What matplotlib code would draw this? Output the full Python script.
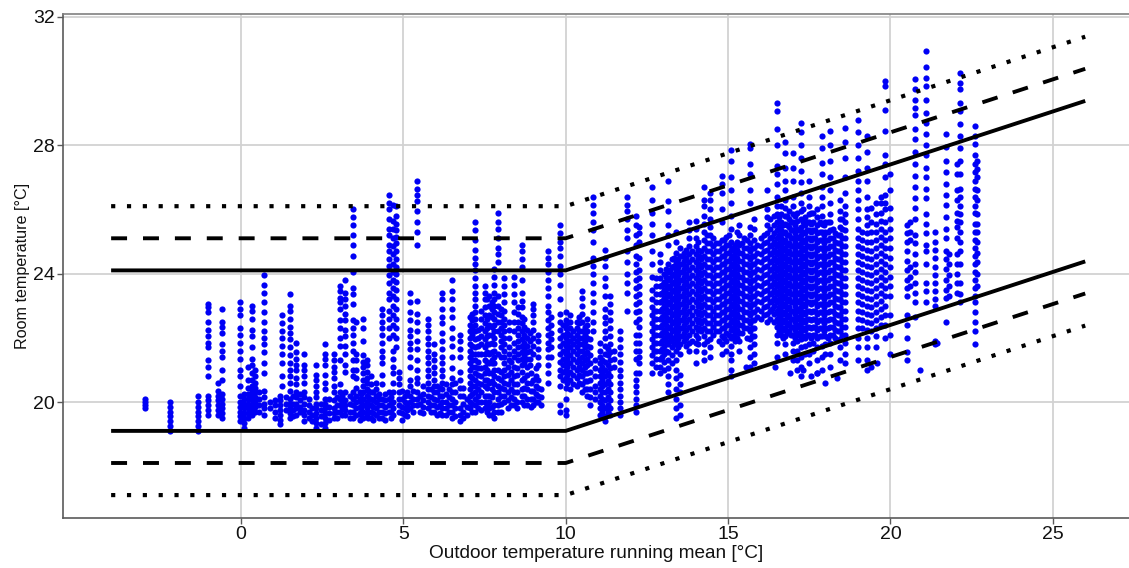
import matplotlib
matplotlib.use("Agg")
import matplotlib.pyplot as plt

# Comfort band breakpoints
band_x = [-4, 10, 26]
upper_solid = [24.1, 24.1, 29.38]
lower_solid = [19.1, 19.1, 24.38]
upper_dash = [25.1, 25.1, 30.38]
lower_dash = [18.1, 18.1, 23.38]
upper_dot = [26.1, 26.1, 31.38]
lower_dot = [17.1, 17.1, 22.38]

x_ticks = [0, 5, 10, 15, 20, 25]
y_ticks = [20, 24, 28, 32]
x_label = "Outdoor temperature running mean [°C]"
y_label = "Room temperature [°C]"

# Vertical strips of readings: low winter section
x_low = [-2.97, -2.2, -1.32, -1.02, -0.72, -0.58, -0.03, 0.1, 0.22, 0.35, 0.42, 0.71, 1.2, 1.27, 1.5, 1.7, 1.95, 2.3,
         2.6, 2.85, 3.05, 3.2, 3.45, 3.55, 3.77, 3.87, 4.0, 4.17, 4.35, 4.55, 4.68, 4.78, 4.87, 5.2, 5.42, 5.75, 5.95, 6.2, 6.5, 6.75]
y_low = [
 [19.8, 19.9, 20.0, 20.1],
 [19.1, 19.25, 19.4, 19.55, 19.7, 19.85, 20.0],
 [19.1, 19.25, 19.4, 19.55, 19.7, 19.85, 20.0, 20.2],
 [19.6, 19.75, 19.9, 20.05, 20.2, 20.8, 21.1, 21.3, 21.7, 21.85, 22.05, 22.25, 22.5, 22.8, 22.95, 23.05],
 [19.6, 19.75, 19.9, 20.05, 20.2, 20.35, 20.6],
 [19.5, 19.65, 19.8, 19.95, 20.1, 20.25, 20.7, 21.0, 21.4, 21.6, 21.8, 22.15, 22.35, 22.5, 22.9],
 [19.4, 19.55, 19.7, 19.85, 20.0, 20.2, 20.5, 20.8, 21.0, 21.35, 21.6, 21.85, 22.1, 22.3, 22.7, 22.9, 23.1],
 [19.2, 19.35, 19.5, 19.65, 19.8, 19.95, 20.1, 20.25],
 [19.5, 19.65, 19.8, 19.95, 20.1, 20.25, 20.45, 20.7, 21.1],
 [19.6, 19.75, 19.9, 20.05, 20.2, 20.35, 20.5, 20.7, 20.9, 21.15, 21.35, 21.7, 22.05, 22.25, 22.6, 22.85, 23.0],
 [19.7, 19.85, 20.0, 20.15, 20.3, 20.45, 20.6, 20.8, 21.0],
 [19.6, 19.8, 19.95, 20.15, 20.35, 20.9, 21.2, 21.55, 21.8, 22.0, 22.2, 22.5, 22.8, 23.1, 23.4, 23.65, 23.95],
 [19.3, 19.45, 19.6, 19.75, 19.9, 20.05, 20.2],
 [20.5, 20.8, 21.2, 21.5, 21.75, 22.0, 22.2, 22.45, 22.7],
 [19.5, 19.65, 19.8, 19.95, 20.1, 20.35, 20.6, 20.8, 21.0, 21.2, 21.45, 21.7, 21.95, 22.15, 22.35, 22.6, 22.85, 23.0, 23.35],
 [19.6, 19.8, 19.95, 20.15, 20.3, 20.55, 20.75, 21.0, 21.15, 21.35, 21.55, 21.85],
 [19.4, 19.6, 19.75, 19.95, 20.15, 20.3, 20.6, 20.8, 21.0, 21.15, 21.5],
 [19.2, 19.35, 19.5, 19.65, 19.8, 19.95, 20.15, 20.3, 20.5, 20.7, 20.85, 21.15],
 [19.2, 19.35, 19.5, 19.65, 19.8, 19.95, 20.1, 20.4, 20.6, 20.85, 21.15, 21.35, 21.5, 21.8],
 [19.5, 19.65, 19.8, 20.05, 20.3, 20.5, 20.75, 20.95, 21.1, 21.3, 21.5],
 [19.7, 19.9, 20.1, 20.3, 20.55, 21.3, 21.75, 22.0, 22.3, 22.55, 22.9, 23.1, 23.25, 23.45, 23.6],
 [19.6, 19.75, 19.9, 20.05, 20.3, 20.95, 21.15, 21.5, 21.75, 22.05, 22.25, 22.55, 22.75, 23.0, 23.2, 23.4, 23.8],
 [19.5, 19.7, 19.9, 20.1, 20.3, 20.8, 21.0, 21.3, 21.6, 21.85, 22.1, 22.3, 22.55, 23.05, 23.35, 23.55, 24.05, 24.55, 24.9, 25.2, 25.5, 25.75, 26.0],
 [19.6, 19.8, 20.0, 20.2, 20.45, 20.75, 21.0, 21.3, 21.5, 22.5],
 [19.5, 19.7, 19.9, 20.1, 20.3, 20.5, 20.7, 20.9, 21.1, 21.25, 21.45, 21.9, 22.3, 22.6],
 [19.6, 19.8, 20.0, 20.2, 20.4, 20.6, 20.75, 20.95, 21.15, 21.3],
 [19.5, 19.7, 19.9, 20.1, 20.3, 20.55, 20.8],
 [19.6, 19.8, 20.0, 20.2, 20.4, 20.6],
 [19.5, 19.7, 19.9, 20.1, 20.55, 20.85, 21.2, 21.4, 21.6, 21.85, 22.1, 22.3, 22.5, 22.7, 22.9],
 [19.7, 19.9, 20.1, 20.3, 22.0, 22.3, 22.6, 22.85, 23.2, 23.4, 23.7, 23.95, 24.25, 24.45, 24.7, 24.9, 25.2, 25.4, 25.7, 26.0, 26.2, 26.45],
 [19.6, 19.8, 20.0, 20.3, 20.6, 20.9, 21.1, 21.35, 21.6, 22.1, 22.4, 22.7, 23.0, 23.3, 23.55, 23.8, 24.05, 24.3, 24.6, 24.85, 25.1, 25.4, 25.65, 26.15],
 [21.7, 22.0, 22.3, 22.6, 22.9, 23.2, 23.5, 23.75, 24.0, 24.2, 24.45, 24.7, 24.95, 25.15, 25.35, 25.55, 25.8, 26.1],
 [19.7, 19.9, 20.1, 20.3, 20.55, 20.75, 20.95],
 [19.8, 20.0, 20.2, 20.5, 20.7, 21.1, 21.4, 21.65, 21.85, 22.05, 22.25, 22.55, 22.8, 23.1, 23.4],
 [19.9, 20.1, 20.3, 20.6, 20.75, 21.0, 21.3, 21.65, 21.9, 22.2, 22.5, 22.75, 23.15, 24.9, 25.3, 25.6, 25.95, 26.25, 26.45, 26.65, 26.9],
 [19.8, 20.0, 20.2, 20.4, 20.6, 20.8, 21.0, 21.2, 21.4, 21.6, 21.8, 22.0, 22.2, 22.4, 22.6],
 [19.7, 19.9, 20.1, 20.3, 20.5, 20.7, 20.9, 21.1, 21.3, 21.5, 21.8],
 [19.6, 19.8, 20.0, 20.2, 20.4, 20.6, 20.8, 21.0, 21.2, 21.4, 21.65, 21.9, 22.15, 22.45, 22.65, 22.9, 23.2, 23.4],
 [19.5, 19.7, 19.9, 20.1, 20.3, 20.55, 20.75, 21.05, 21.4, 21.75, 22.0, 22.3, 22.65, 22.9, 23.2, 23.45, 23.8],
 [19.4, 19.6, 19.8, 20.2, 20.45, 20.7, 20.95, 21.4, 21.65, 21.9, 22.1],
]

# Extra readings in the crowded band just above 19.5 °C
x_band = [0.55, 0.9, 1.05, 1.4, 1.6, 1.82, 2.08, 2.18, 2.45, 2.72, 2.95, 3.12, 3.35, 3.65, 3.7, 3.92, 4.08, 4.25, 4.42, 4.62, 4.95, 5.05, 5.12,
          5.3, 5.5, 5.62, 5.85, 6.05, 6.12, 6.3, 6.4, 6.6, 6.85, 6.95, 7.12, 7.4, 7.58, 7.72, 8.0, 8.22, 8.32, 8.5, 8.72, 8.92, 9.08, 9.25]
y_band = [
 [19.7, 19.9, 20.1, 20.3], [19.8, 20.0], [19.5, 19.7, 19.9, 20.05], [19.75, 19.95, 20.15], [19.55, 19.75, 19.95, 20.2], [19.7, 19.85, 20.05, 20.25],
 [19.5, 19.7, 19.9, 20.1], [19.4, 19.6, 19.8], [19.3, 19.55, 19.75, 19.95], [19.45, 19.65, 19.85, 20.1], [19.5, 19.7, 19.9, 20.15], [19.6, 19.8, 20.0, 20.2],
 [19.5, 19.7, 19.95, 20.2], [19.45, 19.65, 19.85, 20.1, 20.3], [19.6, 19.8, 20.0, 20.25], [19.5, 19.7, 19.95, 20.15, 20.35], [19.45, 19.65, 19.85, 20.05, 20.3], [19.5, 19.7, 19.9, 20.1, 20.25],
 [19.45, 19.65, 19.85, 20.05, 20.25], [19.5, 19.7, 19.95, 20.15], [19.45, 19.65, 19.85, 20.1, 20.35], [19.6, 19.8, 20.0, 20.2], [19.55, 19.75, 19.95, 20.3],
 [19.7, 19.9, 20.1, 20.35], [19.7, 19.95, 20.2], [19.65, 19.85, 20.05, 20.25, 20.5], [19.7, 19.9, 20.15, 20.4], [19.6, 19.85, 20.05, 20.3, 20.5], [19.65, 19.9, 20.2, 20.45], [19.6, 19.8, 20.0, 20.25, 20.55], [19.7, 19.9, 20.15, 20.4], [19.55, 19.8, 20.0, 20.3, 20.6], [19.5, 19.7, 19.95, 20.2, 20.45], [19.6, 19.85, 20.1],
 [19.7, 19.95, 20.25, 20.5, 20.75], [19.75, 20.0, 20.3, 20.55, 20.8, 21.05], [19.7, 19.9, 20.2, 20.45, 20.7], [19.6, 19.85, 20.15, 20.4, 20.65, 20.9, 21.2], [19.7, 19.95, 20.2, 20.45, 20.7, 20.95], [19.8, 20.05, 20.3, 20.55, 20.85, 21.1], [19.9, 20.15, 20.4, 20.7, 20.95, 21.25], [19.8, 20.0, 20.3, 20.55, 20.85, 21.05], [19.9, 20.2, 20.45, 20.75], [19.85, 20.1, 20.35, 20.6, 20.9], [20.0, 20.25, 20.5, 20.8, 21.05], [19.9, 20.15, 20.4],
]

# Shoulder section around the 10 °C breakpoint
x_mid = [7.05, 7.2, 7.3, 7.5, 7.65, 7.8, 7.92, 8.1, 8.4, 8.65, 8.8, 9.0, 9.15, 9.45, 9.55, 9.83, 10.0, 10.12,
         10.35, 10.5, 10.65, 10.75, 10.83, 11.05, 11.2, 11.37, 11.67, 11.9, 12.17, 12.27]
y_mid = [
 [19.8, 20.0, 20.2, 20.4, 20.6, 20.8, 21.0, 21.2, 21.4, 21.6, 21.8, 22.0, 22.2, 22.4, 22.65],
 [19.7, 19.9, 20.1, 20.3, 20.5, 20.7, 20.9, 21.1, 21.3, 21.5, 21.7, 21.95, 22.2, 22.4, 22.6, 22.8, 23.0, 23.2, 23.4, 23.6, 23.85, 24.1, 24.3, 24.5, 24.75, 25.05, 25.35, 25.6],
 [19.8, 20.0, 20.2, 20.4, 20.6, 20.85, 21.05, 21.25, 21.5, 21.75, 22.0, 22.25],
 [19.8, 20.0, 20.2, 20.5, 20.7, 20.9, 21.1, 21.3, 21.5, 21.7, 21.95, 22.2, 22.45, 22.7, 22.95, 23.2, 23.4, 23.6],
 [19.6, 19.8, 20.0, 20.2, 20.6, 20.9, 21.2, 21.5, 21.8, 22.1, 22.4, 22.7, 23.0, 23.3],
 [19.5, 19.7, 19.9, 20.3, 20.55, 20.8, 21.0, 21.2, 21.4, 21.6, 21.8, 22.0, 22.2, 22.4, 22.6, 22.8, 23.0, 23.2, 23.4, 23.65, 23.9, 24.15],
 [19.7, 19.9, 20.1, 20.3, 20.5, 20.75, 21.0, 21.5, 22.2, 22.5, 22.75, 23.0, 23.3, 24.35, 24.6, 24.8, 25.1, 25.4, 25.6, 25.9],
 [20.0, 20.2, 20.4, 20.6, 20.8, 21.0, 21.2, 21.4, 21.6, 21.8, 22.0, 22.2, 22.4, 22.6, 22.85, 23.1, 23.35, 23.6, 23.85],
 [19.9, 20.1, 20.3, 20.55, 20.8, 21.1, 21.4, 21.6, 21.85, 22.2, 22.5, 22.8, 23.1, 23.35, 23.65, 23.9],
 [20.0, 20.2, 20.4, 20.7, 20.95, 21.15, 21.35, 21.55, 21.75, 21.95, 22.2, 22.45, 22.65, 22.95, 23.15, 23.4, 23.8, 24.2, 24.45, 24.7, 24.9],
 [19.9, 20.1, 20.4, 20.6, 20.85, 21.1, 21.35, 21.55, 21.75, 22.0, 22.25],
 [19.9, 20.1, 20.35, 20.7, 21.5, 21.75, 22.0, 22.25, 22.5, 22.7, 22.9, 23.05],
 [20.0, 20.2, 20.45, 20.7, 21.15, 21.4, 21.65, 21.9, 22.1],
 [20.6, 20.9, 21.15, 21.4, 21.65, 21.85, 22.1, 22.3, 22.55, 22.8, 23.0, 23.3, 23.55, 23.8, 24.05, 24.3, 24.5, 24.7],
 [21.4, 21.7, 21.95, 22.15, 22.4, 22.65],
 [19.7, 19.9, 20.5, 20.8, 21.0, 21.25, 21.5, 21.75, 22.0, 22.25, 22.5, 22.75, 23.2, 23.65, 24.0, 24.25, 24.55, 24.8, 25.0, 25.25, 25.5],
 [19.6, 19.75, 20.1, 20.45, 20.75, 21.0, 21.25, 21.5, 21.75, 22.0, 22.3, 22.55, 22.8],
 [20.4, 20.7, 20.95, 21.2, 21.45, 21.7, 21.9, 22.1, 22.3, 22.5, 22.7],
 [20.5, 20.75, 21.0, 21.25, 21.5, 21.7, 21.9, 22.1, 22.3, 22.5],
 [20.3, 20.55, 20.8, 21.0, 21.2, 21.4, 21.6, 21.8, 22.0, 22.2, 22.5, 22.75, 23.0, 23.25, 23.45],
 [20.2, 20.4, 20.65, 20.9, 21.15, 21.35, 21.55, 21.75, 22.0, 22.2, 22.4, 22.6],
 [19.9, 20.15, 20.4, 20.7, 20.95, 21.2, 21.45, 21.7, 21.95],
 [22.2, 22.5, 22.8, 23.1, 23.4, 23.7, 24.0, 24.25, 24.5, 25.0, 25.35, 25.6, 25.9, 26.15, 26.4],
 [19.6, 19.8, 20.0, 20.2, 20.4, 20.6, 20.8, 21.0, 21.2, 21.4, 21.6, 21.85],
 [19.4, 19.55, 19.8, 20.05, 20.3, 20.55, 20.8, 21.0, 21.25, 21.5, 21.75, 22.0, 22.2, 22.45, 22.65, 22.9, 23.3, 23.6, 23.85, 24.25, 24.5, 24.75],
 [19.6, 19.8, 20.05, 20.3, 20.55, 20.8, 21.05, 21.3, 21.55, 21.8, 22.05, 22.3, 22.55, 22.8, 23.05, 23.3],
 [19.6, 19.8, 20.0, 20.2, 20.4, 20.6, 20.8, 21.0, 21.25, 21.5, 21.7, 21.95, 22.2],
 [22.85, 23.4, 23.7, 24.0, 24.35, 24.7, 25.1, 25.35, 25.7, 25.95, 26.15, 26.4],
 [19.7, 19.9, 20.1, 20.3, 20.5, 20.7, 20.9, 21.35, 21.6, 21.85, 22.1, 22.5, 22.8, 23.05, 23.3, 23.55, 23.8, 24.05, 24.3, 24.55, 24.9, 25.2, 25.5, 25.8],
 [20.9, 21.2, 21.4, 21.6, 21.85, 22.1, 22.35, 22.6, 22.85, 23.1, 23.35, 23.6, 23.85, 24.1, 24.5, 25.0, 25.25, 25.45],
]

# More readings threaded between the shoulder strips
x_mid2 = [7.12, 7.38, 7.58, 7.72, 8.0, 8.25, 8.52, 8.72, 8.9, 9.93, 10.05, 10.22, 10.42, 10.58, 10.9, 11.12, 11.3, 11.5]
y_mid2 = [
 [21.1, 21.3, 21.5, 21.75, 22.1, 22.3, 22.55, 22.75],
 [21.5, 21.8, 22.05, 22.3, 22.6, 22.85],
 [21.0, 21.25, 21.55, 21.8, 22.05, 22.3, 22.6, 23.2],
 [21.3, 21.55, 21.85, 22.1, 22.35, 22.65, 22.9, 23.1],
 [21.4, 21.7, 21.9, 22.1, 22.3, 22.5, 22.7, 22.9],
 [21.3, 21.5, 21.7, 22.0, 22.25, 22.5],
 [21.3, 21.5, 21.7, 21.9, 22.1, 22.3, 22.5, 22.75, 22.95],
 [21.2, 21.45, 21.65, 21.85, 22.1, 22.35, 22.6],
 [21.15, 21.35, 21.6, 21.9, 22.15],
 [20.7, 20.95, 21.15, 21.35, 21.6, 21.85, 22.1, 22.4],
 [20.6, 20.85, 21.1, 21.35, 21.6, 21.85, 22.15, 22.45],
 [20.55, 20.85, 21.1, 21.35, 21.6, 21.8, 22.0, 22.2],
 [20.6, 20.85, 21.1, 21.35, 21.6, 21.8, 22.0, 22.2, 22.45, 22.65],
 [20.4, 20.65, 20.9, 21.1, 21.3, 21.5, 21.7, 21.9, 22.1, 22.35],
 [20.1, 20.3, 20.5, 20.8, 21.05, 21.3],
 [19.7, 19.9, 20.1, 20.3, 20.5, 20.7, 20.9, 21.1, 21.3],
 [19.7, 19.9, 20.15, 20.4, 20.65, 20.9, 21.15, 21.45, 21.65],
 [21.1, 21.35, 21.6],
]

# Dense summer cloud
x_high = [12.65, 12.78, 12.9, 13.03, 13.15, 13.28, 13.4, 13.52, 13.65, 13.8, 14.0, 14.12, 14.25, 14.45, 14.62, 14.8, 14.95, 15.1, 15.22, 15.35,
          15.5, 15.67, 15.8, 16.0, 16.2, 16.35, 16.5, 16.62, 16.75, 16.88, 17.0, 17.12, 17.25, 17.38, 17.5, 17.62, 17.75, 17.88, 18.0, 18.15, 18.3, 18.45, 18.6]
y_high = [
 [20.9, 21.2, 21.45, 21.7, 21.95, 22.2, 22.45, 22.7, 22.95, 23.2, 23.5, 23.9, 24.3, 24.7, 25.2, 25.55, 25.9, 26.3, 26.7],
 [21.1, 21.35, 21.6, 21.85, 22.1, 22.35, 22.6, 22.85, 23.1, 23.35, 23.6, 23.85],
 [20.9, 21.1, 21.35, 21.6, 21.85, 22.1, 22.35, 22.6, 22.85, 23.1, 23.35, 23.6, 23.85, 24.1, 24.35, 24.6],
 [21.0, 21.25, 21.5, 21.75, 22.0, 22.25, 22.5, 22.75, 23.0, 23.25, 23.5, 23.75, 24.0],
 [20.3, 20.55, 20.8, 21.05, 21.3, 21.55, 21.8, 22.05, 22.3, 22.55, 22.8, 23.05, 23.3, 23.55, 23.8, 24.05, 24.3, 24.9, 25.2, 25.5, 25.95, 26.25, 26.9],
 [21.2, 21.45, 21.7, 21.95, 22.2, 22.45, 22.7, 22.95, 23.2, 23.45, 23.7, 23.95, 24.2, 24.45],
 [19.5, 19.8, 20.1, 20.4, 20.75, 21.0, 21.3, 21.6, 21.85, 22.1, 22.35, 22.6, 22.85, 23.1, 23.35, 23.6, 23.85, 24.1, 24.35, 24.65, 25.0, 25.3],
 [19.6, 19.9, 20.3, 20.55, 20.85, 21.5, 21.8, 22.05, 22.3, 22.55, 22.8, 23.05, 23.3, 23.55, 23.8, 24.05, 24.3, 24.55, 24.8],
 [21.9, 22.15, 22.4, 22.65, 22.9, 23.15, 23.4, 23.65, 23.9, 24.15, 24.4, 24.65],
 [21.6, 21.85, 22.1, 22.35, 22.6, 22.85, 23.1, 23.35, 23.6, 23.85, 24.1, 24.35, 24.6, 24.85, 25.1, 25.35, 25.6],
 [21.2, 21.6, 21.85, 22.1, 22.35, 22.6, 22.85, 23.1, 23.35, 23.6, 23.85, 24.1, 24.35, 24.6, 24.85, 25.1, 25.4, 25.65],
 [22.3, 22.55, 22.8, 23.05, 23.3, 23.55, 23.8, 24.05, 24.3, 24.55],
 [21.3, 21.55, 21.8, 22.05, 22.3, 22.55, 22.8, 23.05, 23.3, 23.55, 23.8, 24.05, 24.3, 24.55, 24.8, 25.05, 25.3, 25.55, 25.8, 26.1, 26.3, 26.7],
 [21.4, 21.7, 21.95, 22.2, 22.45, 22.7, 22.95, 23.2, 23.45, 23.7, 23.95, 24.2, 24.45, 24.7, 24.95, 25.2, 25.45, 25.7, 26.0, 26.3, 26.5],
 [22.2, 22.45, 22.7, 22.95, 23.2, 23.45, 23.7, 23.95, 24.2, 24.45, 24.7, 24.95],
 [21.5, 21.8, 22.05, 22.3, 22.55, 22.8, 23.05, 23.3, 23.55, 23.8, 24.05, 24.3, 24.55, 24.8, 25.05, 25.6, 26.0, 26.5, 26.8, 27.05],
 [21.6, 21.9, 22.15, 22.4, 22.65, 22.9, 23.15, 23.4, 23.65, 23.9, 24.15, 24.4, 24.65, 24.9, 25.15],
 [20.8, 21.0, 21.3, 21.5, 21.75, 22.0, 22.25, 22.5, 22.75, 23.0, 23.25, 23.5, 23.75, 24.0, 24.25, 24.5, 24.75, 25.0, 25.4, 25.8, 26.2, 26.6, 27.0, 27.5, 27.85],
 [21.9, 22.15, 22.4, 22.65, 22.9, 23.15, 23.4, 23.65, 23.9, 24.15, 24.4, 24.65, 24.9],
 [21.6, 21.9, 22.15, 22.4, 22.65, 22.9, 23.15, 23.4, 23.65, 23.9, 24.15, 24.4, 24.65, 24.9, 25.2, 25.5],
 [22.3, 22.55, 22.8, 23.05, 23.3, 23.55, 23.8, 24.05, 24.3, 24.55, 24.8, 25.1],
 [21.1, 21.4, 21.7, 21.95, 22.2, 22.45, 22.7, 22.95, 23.2, 23.45, 23.7, 23.95, 24.2, 24.45, 24.7, 24.95, 25.2, 25.45, 26.2, 26.6, 27.1, 27.4, 27.9, 28.05],
 [21.2, 21.5, 21.8, 22.05, 22.3, 22.55, 22.8, 23.05, 23.3, 23.55, 23.8, 24.05, 24.3, 24.55, 24.8, 25.05, 25.4, 25.7],
 [22.6, 22.85, 23.1, 23.35, 23.6, 23.85, 24.1, 24.35, 24.6, 24.85, 25.1],
 [22.5, 22.75, 23.0, 23.25, 23.5, 23.75, 24.0, 24.25, 24.5, 24.75, 25.0, 25.25, 25.5, 25.75, 26.0, 26.6],
 [22.9, 23.15, 23.4, 23.65, 23.9, 24.15, 24.4, 24.65, 24.9, 25.15],
 [21.4, 21.85, 22.1, 22.35, 22.6, 22.85, 23.1, 23.35, 23.6, 23.85, 24.1, 24.35, 24.6, 24.85, 25.1, 25.35, 25.6, 25.85, 26.1, 26.4, 26.8, 27.1, 27.35, 28.0, 28.5, 29.05, 29.3],
 [22.1, 22.35, 22.6, 22.85, 23.1, 23.35, 23.6, 23.85, 24.1, 24.35, 24.6, 24.85, 25.1, 25.35, 25.6, 25.85, 26.1],
 [21.5, 21.8, 22.05, 22.3, 22.55, 22.8, 23.05, 23.3, 23.55, 23.8, 24.05, 24.3, 24.55, 24.8, 25.05, 25.3, 25.55, 25.8, 26.05, 26.3, 26.6, 26.9, 27.3, 27.75, 28.1],
 [22.2, 22.45, 22.7, 22.95, 23.2, 23.45, 23.7, 23.95, 24.2, 24.45, 24.7, 24.95, 25.2, 25.45, 25.7, 25.95],
 [21.3, 21.6, 21.85, 22.1, 22.35, 22.6, 22.85, 23.1, 23.35, 23.6, 23.85, 24.1, 24.35, 24.6, 24.85, 25.1, 25.35, 25.6, 25.85, 26.1, 26.4, 26.9, 27.3, 27.75],
 [21.0, 21.3, 21.6, 21.9, 22.15, 22.4, 22.65, 22.9, 23.15, 23.4, 23.65, 23.9, 24.15, 24.4, 24.65, 24.9, 25.15, 25.4, 25.65, 25.9],
 [20.8, 21.1, 21.4, 21.7, 21.95, 22.2, 22.45, 22.7, 22.95, 23.2, 23.45, 23.7, 23.95, 24.2, 24.45, 24.7, 24.95, 25.2, 25.45, 25.7, 25.95, 26.2, 26.5, 26.85, 27.2, 27.6, 28.0, 28.4, 28.7],
 [21.5, 21.75, 22.0, 22.25, 22.5, 22.75, 23.0, 23.25, 23.5, 23.75, 24.0, 24.25, 24.5, 24.75, 25.0, 25.25, 25.5, 25.75],
 [21.2, 21.5, 21.8, 22.1, 22.35, 22.6, 22.85, 23.1, 23.35, 23.6, 23.85, 24.1, 24.35, 24.6, 24.85, 25.1, 25.35, 25.6, 25.85, 26.1, 26.4, 26.9],
 [21.6, 21.85, 22.1, 22.35, 22.6, 22.85, 23.1, 23.35, 23.6, 23.85, 24.1, 24.35, 24.6, 24.85, 25.1, 25.35, 25.6, 25.9],
 [20.9, 21.3, 21.7, 22.0, 22.25, 22.5, 22.75, 23.0, 23.25, 23.5, 23.75, 24.0, 24.25, 24.5, 24.75, 25.0, 25.25, 25.5, 25.75, 26.0],
 [21.0, 21.4, 21.75, 22.05, 22.3, 22.55, 22.8, 23.05, 23.3, 23.55, 23.8, 24.05, 24.3, 24.55, 24.8, 25.05, 25.3, 25.55, 25.8, 26.1, 26.4, 26.7, 27.1, 27.45, 27.9, 28.3],
 [21.5, 21.8, 22.05, 22.3, 22.55, 22.8, 23.05, 23.3, 23.55, 23.8, 24.05, 24.3, 24.55, 24.8, 25.05, 25.3, 25.6],
 [21.1, 21.5, 21.85, 22.1, 22.35, 22.6, 22.85, 23.1, 23.35, 23.6, 23.85, 24.1, 24.35, 24.6, 24.85, 25.1, 25.35, 25.6, 25.85, 26.2, 26.6, 27.0, 27.5, 28.0, 28.45],
 [22.0, 22.25, 22.5, 22.75, 23.0, 23.25, 23.5, 23.75, 24.0, 24.25, 24.5, 24.75, 25.0, 25.25],
 [21.3, 21.7, 21.95, 22.2, 22.45, 22.7, 22.95, 23.2, 23.45, 23.7, 23.95, 24.2, 24.45, 24.7, 24.95, 25.2, 25.45, 25.7, 25.95, 26.3],
 [21.2, 21.5, 21.85, 22.1, 22.35, 22.6, 22.85, 23.1, 23.35, 23.6, 23.85, 24.1, 24.35, 24.6, 24.85, 25.1, 25.35, 25.6, 25.85, 26.1, 26.5, 27.0, 27.6, 28.1, 28.55],
]

# Readings between the summer strips, which close up the cloud
x_cloud = [12.72, 12.97, 13.1, 13.22, 13.35, 13.47, 13.6, 13.72, 13.9, 14.06, 14.18, 14.35, 14.55, 14.72, 14.88, 15.03, 15.16, 15.28, 15.43, 15.58, 15.73, 15.9,
           16.1, 16.28, 16.43, 16.56, 16.68, 16.82, 16.94, 17.06, 17.18, 17.32, 17.44, 17.56, 17.68, 17.82, 17.94, 18.08, 18.22, 18.38, 18.52]
y_cloud = [
 [21.6, 21.85, 22.1, 22.35, 22.6, 22.85],
 [21.4, 21.65, 21.9, 22.15, 22.4, 22.65, 22.9, 23.15, 23.4, 23.65],
 [21.6, 21.9, 22.15, 22.4, 22.65, 22.9, 23.15, 23.4, 23.65, 23.9, 24.15],
 [21.9, 22.1, 22.35, 22.6, 22.85, 23.1, 23.35, 23.6, 23.85, 24.1],
 [21.8, 22.0, 22.25, 22.5, 22.75, 23.0, 23.25, 23.5, 23.75, 24.0, 24.25, 24.5],
 [21.7, 21.95, 22.2, 22.45, 22.7, 22.95, 23.2, 23.45, 23.7, 23.95, 24.2, 24.45],
 [22.05, 22.3, 22.55, 22.8, 23.05, 23.3, 23.55, 23.8, 24.05, 24.3, 24.55],
 [21.75, 22.0, 22.25, 22.5, 22.75, 23.0, 23.25, 23.5, 23.75, 24.0, 24.25, 24.5, 24.75],
 [21.9, 22.2, 22.45, 22.7, 22.95, 23.2, 23.45, 23.7, 23.95, 24.2, 24.45, 24.7],
 [21.8, 22.0, 22.25, 22.5, 22.75, 23.0, 23.25, 23.5, 23.75, 24.0, 24.25, 24.5, 24.75, 25.0],
 [22.2, 22.45, 22.7, 22.95, 23.2, 23.45, 23.7, 23.95, 24.2, 24.45, 24.7],
 [21.9, 22.2, 22.45, 22.7, 22.95, 23.2, 23.45, 23.7, 23.95, 24.2, 24.45, 24.7, 24.95, 25.2],
 [22.1, 22.35, 22.6, 22.85, 23.1, 23.35, 23.6, 23.85, 24.1, 24.35, 24.6, 24.85, 25.1],
 [21.9, 22.2, 22.45, 22.7, 22.95, 23.2, 23.45, 23.7, 23.95, 24.2, 24.45, 24.7, 24.95],
 [22.0, 22.3, 22.55, 22.8, 23.05, 23.3, 23.55, 23.8, 24.05, 24.3, 24.55, 24.8, 25.05],
 [22.1, 22.4, 22.65, 22.9, 23.15, 23.4, 23.65, 23.9, 24.15, 24.4, 24.65, 24.9, 25.2],
 [22.05, 22.3, 22.55, 22.8, 23.05, 23.3, 23.55, 23.8, 24.05, 24.3, 24.55, 24.8],
 [22.0, 22.25, 22.5, 22.75, 23.0, 23.25, 23.5, 23.75, 24.0, 24.25, 24.5, 24.75, 25.0, 25.3],
 [22.15, 22.4, 22.65, 22.9, 23.15, 23.4, 23.65, 23.9, 24.15, 24.4, 24.65, 24.95],
 [22.0, 22.3, 22.55, 22.8, 23.05, 23.3, 23.55, 23.8, 24.05, 24.3, 24.55, 24.8, 25.05],
 [22.05, 22.3, 22.55, 22.8, 23.05, 23.3, 23.55, 23.8, 24.05, 24.3, 24.55, 24.8],
 [22.65, 22.9, 23.15, 23.4, 23.65, 23.9, 24.15, 24.4, 24.65, 24.9],
 [22.7, 22.95, 23.2, 23.45, 23.7, 23.95, 24.2, 24.45, 24.7, 24.95, 25.2],
 [22.6, 22.85, 23.1, 23.35, 23.6, 23.85, 24.1, 24.35, 24.6, 24.85, 25.1, 25.4, 25.7],
 [22.5, 22.75, 23.0, 23.25, 23.5, 23.75, 24.0, 24.25, 24.5, 24.75, 25.0, 25.25, 25.5, 25.8],
 [22.2, 22.45, 22.7, 22.95, 23.2, 23.45, 23.7, 23.95, 24.2, 24.45, 24.7, 24.95, 25.2, 25.45, 25.75],
 [22.0, 22.25, 22.5, 22.75, 23.0, 23.25, 23.5, 23.75, 24.0, 24.25, 24.5, 24.75, 25.0, 25.25, 25.5],
 [22.15, 22.4, 22.65, 22.9, 23.15, 23.4, 23.65, 23.9, 24.15, 24.4, 24.65, 24.9, 25.2, 25.5, 25.8],
 [22.1, 22.35, 22.6, 22.85, 23.1, 23.35, 23.6, 23.85, 24.1, 24.35, 24.6, 24.85, 25.1, 25.35, 25.6],
 [22.0, 22.25, 22.5, 22.75, 23.0, 23.25, 23.5, 23.75, 24.0, 24.25, 24.5, 24.75, 25.0, 25.25, 25.5, 25.8],
 [22.1, 22.35, 22.6, 22.85, 23.1, 23.35, 23.6, 23.85, 24.1, 24.35, 24.6, 24.85, 25.1, 25.35],
 [22.05, 22.3, 22.55, 22.8, 23.05, 23.3, 23.55, 23.8, 24.05, 24.3, 24.55, 24.8, 25.05, 25.3, 25.6, 26.0],
 [22.1, 22.35, 22.6, 22.85, 23.1, 23.35, 23.6, 23.85, 24.1, 24.35, 24.6, 24.85, 25.1, 25.35, 25.6],
 [22.0, 22.3, 22.55, 22.8, 23.05, 23.3, 23.55, 23.8, 24.05, 24.3, 24.55, 24.8, 25.05, 25.3, 25.55, 25.9],
 [22.1, 22.35, 22.6, 22.85, 23.1, 23.35, 23.6, 23.85, 24.1, 24.35, 24.6, 24.85, 25.1, 25.35],
 [22.05, 22.3, 22.55, 22.8, 23.05, 23.3, 23.55, 23.8, 24.05, 24.3, 24.55, 24.8, 25.05, 25.3, 25.6],
 [22.2, 22.45, 22.7, 22.95, 23.2, 23.45, 23.7, 23.95, 24.2, 24.45, 24.7, 24.95, 25.2, 25.5],
 [22.0, 22.3, 22.55, 22.8, 23.05, 23.3, 23.55, 23.8, 24.05, 24.3, 24.55, 24.8, 25.05, 25.3, 25.6],
 [22.1, 22.35, 22.6, 22.85, 23.1, 23.35, 23.6, 23.85, 24.1, 24.35, 24.6, 24.85, 25.1, 25.4],
 [22.2, 22.45, 22.7, 22.95, 23.2, 23.45, 23.7, 23.95, 24.2, 24.45, 24.7, 24.95, 25.2],
 [22.1, 22.35, 22.6, 22.85, 23.1, 23.35, 23.6, 23.85, 24.1, 24.35, 24.6, 24.85, 25.1, 25.4, 25.7],
]

# Warmest, sparser strips
x_warm = [19.0, 19.13, 19.27, 19.4, 19.55, 19.7, 19.83, 20.0, 20.5, 20.6, 20.75, 21.1, 21.37, 21.7, 21.8, 22.05, 22.15, 22.6, 22.67]
y_warm = [
 [21.3, 21.7, 22.0, 22.3, 22.6, 22.85, 23.1, 23.35, 23.6, 23.85, 24.1, 24.35, 24.6, 24.85, 25.1, 25.4, 25.7, 26.0, 26.3, 26.6, 26.9, 27.2, 27.6, 28.0, 28.4, 28.8],
 [22.3, 22.55, 22.8, 23.05, 23.3, 23.55, 23.8, 24.05, 24.3, 24.55, 24.8, 25.05, 25.3],
 [21.0, 21.3, 21.7, 22.0, 22.25, 22.5, 22.75, 23.0, 23.25, 23.5, 23.75, 24.0, 24.25, 24.5, 24.75, 25.0, 25.25, 25.5, 25.75, 26.0, 26.4, 26.9, 27.3, 27.8, 28.3],
 [22.2, 22.45, 22.7, 22.95, 23.2, 23.45, 23.7, 23.95, 24.2, 24.45, 24.7, 25.0, 25.3, 25.6, 26.05],
 [21.7, 22.05, 22.3, 22.55, 22.8, 23.05, 23.3, 23.55, 23.8, 24.05, 24.3, 24.55, 24.8, 25.05, 25.3, 25.55, 25.85, 26.2],
 [22.4, 22.65, 22.9, 23.15, 23.4, 23.65, 23.9, 24.15, 24.4, 24.65, 24.9, 25.15, 25.4, 25.65, 25.9, 26.2, 26.4],
 [22.0, 22.4, 22.7, 23.0, 23.3, 23.55, 23.8, 24.05, 24.3, 24.55, 24.8, 25.05, 25.3, 25.6, 26.0, 26.2, 26.45, 27.0, 27.4, 27.7, 28.45, 29.1, 29.85, 30.0],
 [21.5, 22.1, 22.7, 23.3, 23.6, 23.9, 24.2, 24.5, 24.8, 25.1, 25.4, 25.7, 26.05, 26.6, 27.1],
 [21.3, 21.55, 22.0, 22.4, 22.7, 23.3, 23.55, 23.8, 24.1, 24.4, 24.7, 25.0, 25.25, 25.5],
 [23.6, 23.9, 24.2, 25.05, 25.3, 25.6],
 [22.65, 23.1, 23.4, 23.7, 24.05, 24.3, 24.6, 24.95, 25.2, 25.7, 26.05, 26.35, 26.7, 27.05, 27.4, 27.8, 28.2, 28.5, 28.95, 29.15, 29.4, 29.75, 30.05],
 [23.1, 23.45, 23.7, 24.3, 24.7, 24.9, 25.25, 25.55, 25.85, 26.35, 26.65, 27.0, 27.3, 27.7, 28.0, 28.35, 28.7, 29.0, 29.4, 29.85, 30.1, 30.45, 30.95],
 [21.8, 21.9, 23.0, 23.2, 23.45, 23.7, 23.95, 24.2, 24.5, 24.75, 25.0, 25.3],
 [22.5, 23.25, 23.5, 23.8, 24.15, 24.45, 24.7, 25.1, 25.4, 25.75, 26.15, 26.45, 26.8, 27.15, 27.5, 27.95, 28.35],
 [23.3, 23.6, 23.95, 24.3, 24.6],
 [23.4, 23.7, 24.0, 24.3, 24.6, 25.1, 25.45, 25.65, 25.9, 26.3, 26.6, 27.1, 27.4],
 [23.1, 23.35, 23.7, 24.3, 24.7, 25.0, 25.3, 25.6, 25.85, 26.1, 26.4, 26.65, 27.1, 27.5, 27.9, 28.3, 28.65, 29.05, 29.3, 29.75, 29.95, 30.25],
 [21.8, 22.2, 22.5, 22.8, 23.1, 23.3, 23.55, 23.8, 24.05, 24.3, 24.55, 24.8, 25.05, 25.3, 25.55, 25.9, 26.1, 26.4, 26.65, 26.9, 27.15, 27.4, 27.7, 28.05, 28.3, 28.6],
 [23.6, 24.0, 24.35, 24.65, 25.0, 25.3, 25.55, 25.85, 26.3, 26.6, 27.0, 27.25, 27.5],
]

# Isolated low readings under the summer cloud
x_stray = [15.55, 16.45, 16.9, 17.3, 17.55, 17.75, 18.0, 18.35, 19.4, 19.6, 20.9, 21.45]
y_stray = [21.1, 21.1, 20.9, 21.0, 20.8, 20.9, 20.6, 20.75, 21.1, 21.2, 21.0, 21.85]

DOT = "#0000f5"
GRID = "#d2d2d2"
AXIS = "#5a5a5a"
W, H = 1129, 568
L, R, T, B = 63, 1129, 14, 518
X0, XS = 241.0, 32.47
Y20, YS = 402.0, 32.1

plt.rcParams["font.family"] = ["Liberation Sans", "DejaVu Sans"]
fig = plt.figure(figsize=(W / 100, H / 100), dpi=100, facecolor="white")
ax = fig.add_axes([L / W, 1 - B / H, (R - L) / W, (B - T) / H])
ax.set_xlim((L - X0) / XS, (R - X0) / XS)
ax.set_ylim(20 - (B - Y20) / YS, 20 + (Y20 - T) / YS)

ax.grid(True, color=GRID, lw=1.3, zorder=0)
ax.set_axisbelow(True)

for xs, ys in ((x_low, y_low), (x_band, y_band), (x_mid, y_mid), (x_mid2, y_mid2),
               (x_high, y_high), (x_cloud, y_cloud), (x_warm, y_warm)):
    for cx, cy in zip(xs, ys):
        ax.scatter([cx] * len(cy), cy, s=20, color=DOT, linewidths=0, zorder=2)
ax.scatter(x_stray, y_stray, s=20, color=DOT, linewidths=0, zorder=2)

for ys in (upper_solid, lower_solid):
    ax.plot(band_x, ys, color="black", lw=2.8, solid_capstyle="butt", solid_joinstyle="miter", zorder=3)
for ys in (upper_dash, lower_dash):
    ax.plot(band_x, ys, color="black", lw=2.8, linestyle=(0, (4.1, 4.1)), dash_capstyle="butt", zorder=3)
for ys in (upper_dot, lower_dot):
    ax.plot(band_x, ys, color="black", lw=3.0, linestyle=(0, (1, 2.8)), dash_capstyle="butt", zorder=3)

ax.set_xticks(x_ticks)
ax.set_yticks(y_ticks)
ax.tick_params(axis="both", labelsize=14, length=4, width=1, color=AXIS, labelcolor="#111111", pad=2)
ax.set_xlabel(x_label, fontsize=13.7, color="#111111", labelpad=1)
ax.set_ylabel(y_label, fontsize=11.6, color="#111111", labelpad=2)

for side in ("left", "bottom", "top"):
    ax.spines[side].set_color(AXIS)
    ax.spines[side].set_linewidth(1.2)
ax.spines["top"].set_color("#808080")
ax.spines["right"].set_visible(False)

fig.savefig("out.png", dpi=100)
